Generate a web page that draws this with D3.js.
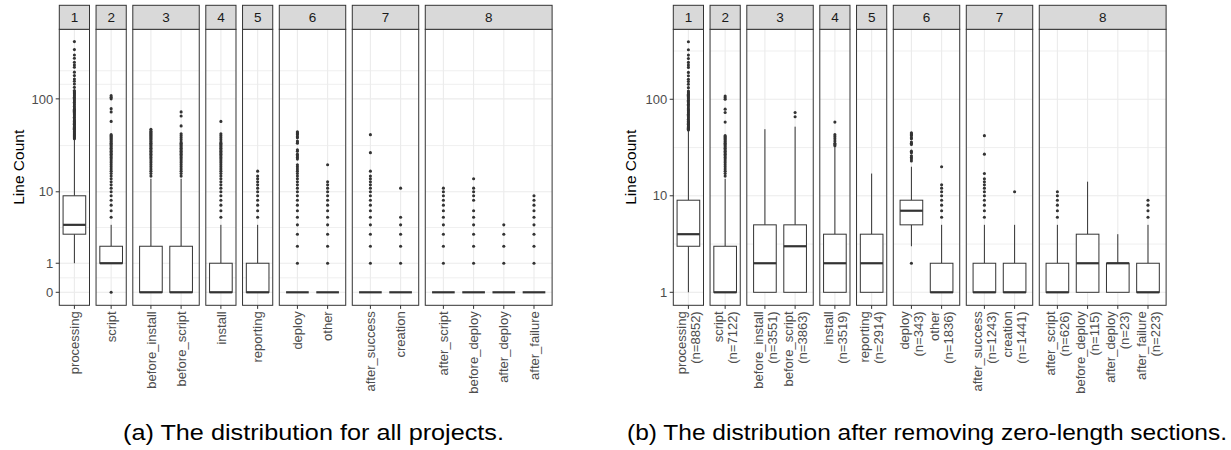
<!DOCTYPE html>
<html><head><meta charset="utf-8">
<script src="https://cdn.jsdelivr.net/npm/d3@7"></script>
<style>
body{margin:0;background:#fff;}
text{font-family:"Liberation Sans",Arial,sans-serif;}
</style>
</head><body>
<svg id="chart" width="1231" height="450"></svg>
<script>
// ---------------- data ----------------
const facets = ["1","2","3","4","5","6","7","8"];
const facetCategories = [
  ["processing"],["script"],["before_install","before_script"],["install"],["reporting"],
  ["deploy","other"],["after_success","creation"],["after_script","before_deploy","after_deploy","after_failure"]
];
const categories = ["processing","script","before_install","before_script","install","reporting",
  "deploy","other","after_success","creation","after_script","before_deploy","after_deploy","after_failure"];
const counts = [8852,7122,3551,3863,3519,2914,343,1836,1243,1441,626,115,23,223];

// (a) all projects
const allQ1     = [3,1,0,0,0,0,0,0,0,0,0,0,0,0];
const allMedian = [4,1,0,0,0,0,0,0,0,0,0,0,0,0];
const allQ3     = [9,2,2,2,1,1,0,0,0,0,0,0,0,0];
const allLow    = [1,1,0,0,0,0,0,0,0,0,0,0,0,0];
const allHigh   = [37,4,14,14,4,4,0,0,0,0,0,0,0,0];
const allOutliers = [
  [38,39,40,41,42,43,44,45,46,47,48,49,50,51,52,53,54,55,56,57,58,59,60,62,64,66,68,70,72,74,76,78,80,83,86,89,92,95,98,101,104,107,110,113,116,119,122,132,143,153,161,175,190,214,226,241,265,287,326,395],
  [0,5,6,7,8,9,10,11,12,13,14,15,16,17,18,19,20,21,22,23,24,25,26,27,28,29,30,31,32,33,34,35,36,37,38,39,40,41,42,58,73,79,100,104,108],
  [15,16,17,18,19,20,21,22,23,24,25,26,27,28,29,30,31,32,33,34,35,36,37,38,39,40,41,42,43,44,45,46,48],
  [15,16,17,18,19,20,21,22,23,24,25,26,27,28,29,30,31,32,33,34,35,37,39,41,43,52,66,73],
  [5,6,7,8,9,10,11,12,13,14,15,16,17,18,19,20,21,22,23,24,25,26,27,28,29,30,31,32,33,34,35,37,39,41,43,58],
  [5,6,7,8,9,10,11,12,13,14,15,17],
  [1,2,3,4,5,6,7,8,9,10,11,12,13,14,15,16,17,18,19,20,23,24,25,26,28,29,34,35,36,39,40,42,43,44,45],
  [1,2,3,4,5,6,7,8,9,10,11,12,13,20],
  [1,2,3,4,5,6,7,8,9,10,11,12,13,14,15,17,27,42],
  [1,2,3,4,5,11],
  [1,2,3,4,5,6,7,8,9,10,11],
  [1,2,3,4,5,6,8,9,10,11,14],
  [1,2,3,4],
  [1,2,3,4,5,6,7,8,9]
];

// (b) zero-length sections removed
const nzQ1     = [3,1,1,1,1,1,5,1,1,1,1,1,1,1];
const nzMedian = [4,1,2,3,2,2,7,1,1,1,1,2,2,1];
const nzQ3     = [9,3,5,5,4,4,9,2,2,2,2,4,2,2];
const nzLow    = [1,1,1,1,1,1,3,1,1,1,1,1,1,1];
const nzHigh   = [47,15,49,52,32,17,20,5,5,5,5,14,4,5];
const nzOutliers = [
  [48,49,50,51,52,53,54,55,56,57,58,59,60,62,64,66,68,70,72,74,76,78,80,83,86,89,92,95,98,101,104,107,110,113,116,119,122,132,143,153,161,175,190,214,226,241,265,287,326,395],
  [16,17,18,19,20,21,22,23,24,25,26,27,28,29,30,31,32,33,34,35,36,37,38,39,40,41,42,58,73,79,100,104,108],
  [],
  [66,73],
  [33,34,35,37,39,41,43,58],
  [],
  [2,23,24,25,26,28,29,34,35,36,39,40,42,43,44,45],
  [6,7,8,9,10,11,12,13,20],
  [6,7,8,9,10,11,12,13,14,15,17,27,42],
  [11],
  [6,7,8,9,10,11],
  [],
  [],
  [6,7,8,9]
];

const allTicks = [0,1,10,100];
const allMinor = [0.413,3.69,32.1,141.9,196.7];
const nzTicks = [1,10,100];
const nzMinor = [3.162,31.62,316.2];
const yTitle = "Line Count";
const captions = ["(a) The distribution for all projects.","(b) The distribution after removing zero-length sections."];

// ---------------- drawing ----------------
const svg = d3.select("#chart");
const step = 30.2, gap = 6.55, stripTop = 5.3, stripH = 24, panelTop = 29.3, panelBottom = 305.3;
const grey20 = "#333333";

function drawChart(opt){
  const g = svg.append("g");
  const yLog = d3.scaleLog().domain([0.7333, 531]).range([panelBottom, panelTop]);
  const y = v => yLog(v + opt.offset);
  let x0 = opt.left;
  let idx = 0;
  facets.forEach((f, fi) => {
    const cats = facetCategories[fi];
    const n = cats.length;
    const w = n === 1 ? step : (n + 0.2) * step;
    const xs = d3.scalePoint().domain(cats).range(n === 1 ? [x0 + w/2, x0 + w/2] : [x0 + 0.6*step, x0 + w - 0.6*step]);
    const pg = g.append("g");
    pg.append("rect").attr("x", x0).attr("y", panelTop).attr("width", w).attr("height", panelBottom - panelTop).attr("fill", "#fff");
    // grid
    opt.minor.forEach(m => pg.append("line").attr("x1", x0).attr("x2", x0 + w).attr("y1", y(m)).attr("y2", y(m)).attr("stroke", "#EBEBEB").attr("stroke-width", 0.8));
    opt.ticks.forEach(m => pg.append("line").attr("x1", x0).attr("x2", x0 + w).attr("y1", y(m)).attr("y2", y(m)).attr("stroke", "#EBEBEB").attr("stroke-width", 1.1));
    cats.forEach(c => pg.append("line").attr("x1", xs(c)).attr("x2", xs(c)).attr("y1", panelTop).attr("y2", panelBottom).attr("stroke", "#EBEBEB").attr("stroke-width", 1.1));
    // boxes
    cats.forEach(c => {
      const i = idx++;
      const xc = xs(c), bw = 0.75 * step;
      pg.append("line").attr("x1", xc).attr("x2", xc).attr("y1", y(opt.q3[i])).attr("y2", y(opt.high[i])).attr("stroke", grey20).attr("stroke-width", 1);
      pg.append("line").attr("x1", xc).attr("x2", xc).attr("y1", y(opt.q1[i])).attr("y2", y(opt.low[i])).attr("stroke", grey20).attr("stroke-width", 1);
      pg.append("rect").attr("x", xc - bw/2).attr("y", y(opt.q3[i])).attr("width", bw).attr("height", Math.max(0, y(opt.q1[i]) - y(opt.q3[i])))
        .attr("fill", "#fff").attr("stroke", grey20).attr("stroke-width", 1);
      pg.append("line").attr("x1", xc - bw/2).attr("x2", xc + bw/2).attr("y1", y(opt.med[i])).attr("y2", y(opt.med[i])).attr("stroke", grey20).attr("stroke-width", 2.2);
      pg.selectAll(null).data(opt.out[i]).enter().append("circle")
        .attr("cx", xc).attr("cy", d => y(d)).attr("r", 1.55).attr("fill", grey20);
      // tick + label
      pg.append("line").attr("x1", xc).attr("x2", xc).attr("y1", panelBottom).attr("y2", panelBottom + 3.6).attr("stroke", grey20).attr("stroke-width", 1);
      const lines = opt.labels(i);
      lines.forEach((t, li) => {
        const lx = xc + (li - (lines.length - 1)/2) * 14;
        pg.append("text").attr("transform", `translate(${lx},${panelBottom + 6})rotate(-90)`)
          .attr("text-anchor", "end").attr("dy", "0.36em").attr("font-size", 13).attr("fill", "#4D4D4D").text(t);
      });
    });
    // panel border
    pg.append("rect").attr("x", x0).attr("y", panelTop).attr("width", w).attr("height", panelBottom - panelTop).attr("fill", "none").attr("stroke", grey20).attr("stroke-width", 1);
    // strip
    pg.append("rect").attr("x", x0).attr("y", stripTop).attr("width", w).attr("height", stripH).attr("fill", "#D9D9D9").attr("stroke", grey20).attr("stroke-width", 1);
    pg.append("text").attr("x", x0 + w/2).attr("y", stripTop + stripH/2).attr("dy", "0.36em").attr("text-anchor", "middle")
      .attr("font-size", 13.5).attr("fill", "#1A1A1A").text(f);
    x0 += w + gap;
  });
  // y axis
  opt.ticks.forEach(t => {
    g.append("line").attr("x1", opt.left - 3.6).attr("x2", opt.left).attr("y1", y(t)).attr("y2", y(t)).attr("stroke", grey20).attr("stroke-width", 1);
    g.append("text").attr("x", opt.left - 6).attr("y", y(t)).attr("dy", "0.36em").attr("text-anchor", "end")
      .attr("font-size", 13).attr("fill", "#4D4D4D").text(t);
  });
  g.append("text").attr("transform", `translate(${opt.titleX},${(panelTop + panelBottom)/2})rotate(-90)`)
    .attr("text-anchor", "middle").attr("dy", "0.36em").attr("font-size", 15.5).attr("fill", "#000").text(yTitle);
  svg.append("text").attr("x", opt.capX).attr("y", 440).attr("text-anchor", "middle")
    .attr("font-family", "'Liberation Sans Narrow','DejaVu Sans Condensed',sans-serif")
    .attr("font-size", 22.5).attr("textLength", opt.capW).attr("lengthAdjust", "spacingAndGlyphs")
    .attr("fill", "#000").text(opt.caption);
}

drawChart({left: 59.3, offset: 1, q1: allQ1, med: allMedian, q3: allQ3, low: allLow, high: allHigh, out: allOutliers,
  ticks: allTicks, minor: allMinor, titleX: 18.5, capX: 313.5, capW: 381, caption: captions[0],
  labels: i => [categories[i]]});
drawChart({left: 673.3, offset: 0, q1: nzQ1, med: nzMedian, q3: nzQ3, low: nzLow, high: nzHigh, out: nzOutliers,
  ticks: nzTicks, minor: nzMinor, titleX: 630, capX: 927, capW: 600, caption: captions[1],
  labels: i => [categories[i], "(n=" + counts[i] + ")"]});
</script>
</body></html>
